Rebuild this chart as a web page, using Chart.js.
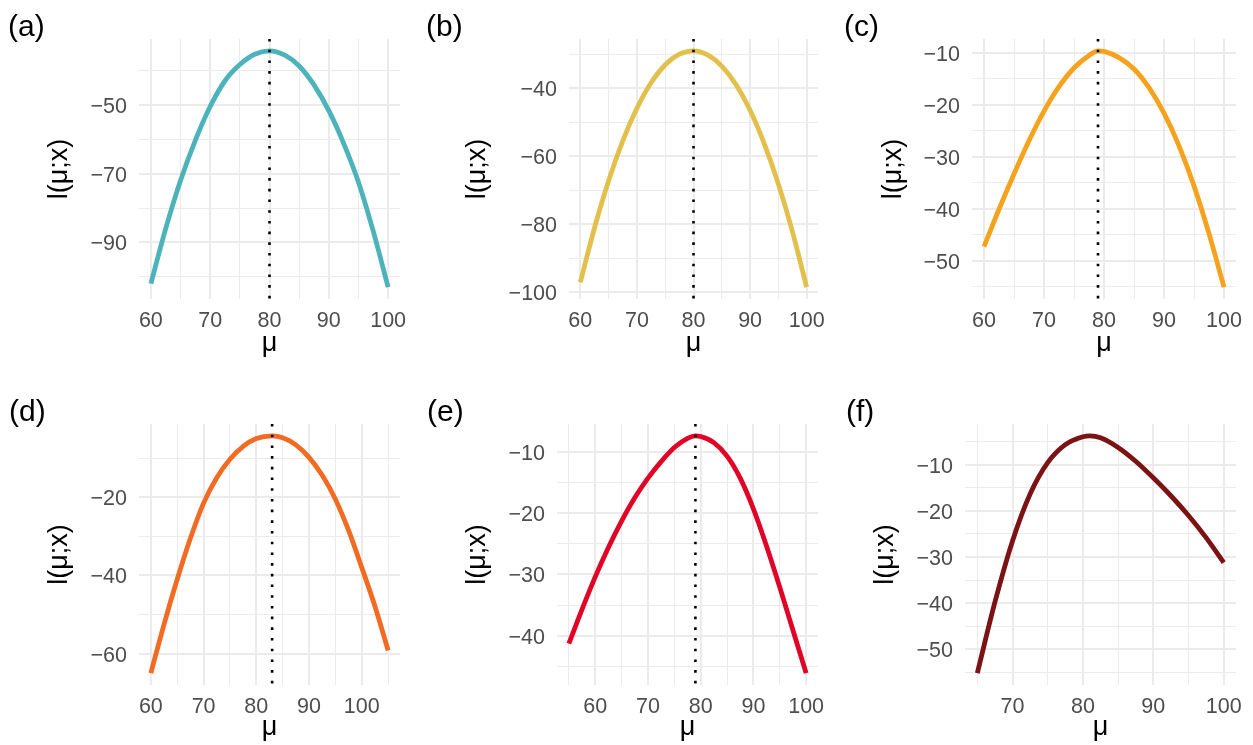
<!DOCTYPE html>
<html>
<head>
<meta charset="utf-8">
<script src="https://cdn.jsdelivr.net/npm/chart.js@4/dist/chart.umd.min.js"></script>
<style>
  body { margin: 0; background: #fff; width: 1253px; height: 745px; position: relative; overflow: hidden; }
  .panel { position: absolute; }
  .tag { position: absolute; font-family: "Liberation Sans", Arial, sans-serif; font-size: 30px; line-height: 1; color: #000; }
</style>
</head>
<body>
<script>
// values: mu on x, log-likelihood l(mu;x) on y
const muA = [60, 62.5, 65, 67.5, 70, 72.5, 75, 77.5, 80, 82.5, 85, 87.5, 90, 92.5, 95, 97.5, 100];
const lA  = [-102.0, -86.0, -72.0, -60.3, -50.5, -43.0, -38.3, -35.3, -34.3, -35.5, -38.7, -44.2, -51.7, -61.2, -72.5, -86.8, -103.0];
const mleA = 80;

const muB = [60, 62.5, 65, 67.5, 70, 72.5, 75, 77.5, 80, 82.5, 85, 87.5, 90, 92.5, 95, 97.5, 100];
const lB  = [-97.1, -81.1, -67.2, -55.5, -45.9, -38.4, -33.1, -30.0, -29.0, -30.2, -33.5, -38.9, -46.5, -56.3, -68.2, -82.3, -98.5];
const mleB = 80;

const muC = [60, 62.5, 65, 67.5, 70, 72.5, 75, 77.5, 79, 80, 82.5, 85, 87.5, 90, 92.5, 95, 97.5, 100];
const lC  = [-47.3, -40.1, -33.3, -26.9, -21.2, -16.5, -12.9, -10.5, -9.6, -9.7, -10.9, -13.1, -16.7, -21.6, -27.9, -35.6, -44.8, -55.1];
const mleC = 79;

const muD = [60, 62.5, 65, 67.5, 70, 72.5, 75, 77.5, 80, 83, 85, 87.5, 90, 92.5, 95, 97.5, 100, 102.5, 105];
const lD  = [-65.0, -52.5, -41.0, -30.5, -21.5, -15.0, -10.3, -7.0, -5.0, -4.3, -4.8, -6.6, -9.8, -14.4, -20.5, -28.5, -38.0, -47.9, -59.2];
const mleD = 83;

const muE = [55, 57.5, 60, 62.5, 65, 67.5, 70, 72.5, 75, 77.5, 79, 80, 82.5, 85, 87.5, 90, 92.5, 95, 97.5, 100];
const lE  = [-41.3, -35.7, -30.4, -25.6, -21.3, -17.5, -14.3, -11.6, -9.3, -7.8, -7.4, -7.5, -8.5, -10.7, -14.3, -19.3, -25.4, -32.1, -39.1, -46.1];
const mleE = 79;

const muF = [65, 67.5, 70, 72.5, 75, 77.5, 80, 81, 82.5, 85, 87.5, 90, 92.5, 95, 97.5, 100];
const lF  = [-55.2, -39.8, -26.5, -16.3, -9.5, -5.6, -3.9, -3.7, -4.1, -6.2, -9.2, -12.8, -16.7, -21.0, -25.8, -31.2];

// tick marks (labelled majors, unlabelled minors)
const xMajor = [60, 70, 80, 90, 100];
const xMinorABC = [65, 75, 85, 95];
const xMinorD = [65, 75, 85, 95, 105];
const xMinorE = [55, 65, 75, 85, 95];
const xMajorF = [70, 80, 90, 100];
const xMinorF = [65, 75, 85, 95];

const yMajorA = [-90, -70, -50];
const yMinorA = [-100, -80, -60, -40];
const yMajorB = [-100, -80, -60, -40];
const yMinorB = [-90, -70, -50, -30];
const yMajorC = [-50, -40, -30, -20, -10];
const yMinorC = [-55, -45, -35, -25, -15];
const yMajorD = [-60, -40, -20];
const yMinorD = [-50, -30, -10];
const yMajorE = [-40, -30, -20, -10];
const yMinorE = [-45, -35, -25, -15];
const yMajorF = [-50, -40, -30, -20, -10];
const yMinorF = [-55, -45, -35, -25, -15, -5];

const FONT = '"Liberation Sans", Arial, sans-serif';
Chart.defaults.font.family = FONT;

const panels = [
  { tag: '(a)', mu: muA, l: lA, mle: mleA, color: '#4DB3BA', xMajor: xMajor, xMinor: xMinorABC, yMajor: yMajorA, yMinor: yMinorA,
    box: { left: 0, top: 0, w: 418, h: 372, plotLeft: 139, plotTop: 39, plotRight: 400, plotBottom: 299, yTitlePad: 46.5, xTitlePad: 15 },
    tagPos: [8, 11] },
  { tag: '(b)', mu: muB, l: lB, mle: mleB, color: '#E3C04B', xMajor: xMajor, xMinor: xMinorABC, yMajor: yMajorB, yMinor: yMinorB,
    box: { left: 418, top: 0, w: 418, h: 372, plotLeft: 569, plotTop: 39, plotRight: 818, plotBottom: 299, yTitlePad: 46.5, xTitlePad: 15 },
    tagPos: [426, 11] },
  { tag: '(c)', mu: muC, l: lC, mle: mleC, color: '#F5A31D', xMajor: xMajor, xMinor: xMinorABC, yMajor: yMajorC, yMinor: yMinorC,
    box: { left: 836, top: 0, w: 417, h: 372, plotLeft: 972, plotTop: 39, plotRight: 1236, plotBottom: 299, yTitlePad: 44.5, xTitlePad: 15 },
    tagPos: [844, 11] },
  { tag: '(d)', mu: muD, l: lD, mle: mleD, color: '#F26B23', xMajor: xMajor, xMinor: xMinorD, yMajor: yMajorD, yMinor: yMinorD,
    box: { left: 0, top: 385, w: 418, h: 360, plotLeft: 139, plotTop: 424, plotRight: 400, plotBottom: 685, yTitlePad: 46.5, xTitlePad: 3.5 },
    tagPos: [9, 396] },
  { tag: '(e)', mu: muE, l: lE, mle: mleE, color: '#E00526', xMajor: xMajor, xMinor: xMinorE, yMajor: yMajorE, yMinor: yMinorE,
    box: { left: 418, top: 385, w: 418, h: 360, plotLeft: 557, plotTop: 424, plotRight: 818, plotBottom: 685, yTitlePad: 46.5, xTitlePad: 3.5 },
    tagPos: [427, 396] },
  { tag: '(f)', mu: muF, l: lF, mle: null, color: '#7B1214', xMajor: xMajorF, xMinor: xMinorF, yMajor: yMajorF, yMinor: yMinorF,
    box: { left: 836, top: 385, w: 417, h: 360, plotLeft: 965, plotTop: 424, plotRight: 1236, plotBottom: 685, yTitlePad: 36.5, xTitlePad: 3.5 },
    tagPos: [846, 396] }
];

// ggplot-style 5% expansion
function expand(vals) {
  const lo = Math.min(...vals), hi = Math.max(...vals);
  const pad = (hi - lo) * 0.05;
  return [lo - pad, hi + pad];
}

function fmt(v) {
  return v < 0 ? '\u2212' + Math.abs(v) : String(v);
}

// dotted vertical line at the maximum
const mleLine = {
  id: 'mleLine',
  afterDatasetsDraw(chart, args, opts) {
    if (opts.value == null) return;
    const { ctx, chartArea, scales } = chart;
    const x = scales.x.getPixelForValue(opts.value);
    ctx.save();
    ctx.strokeStyle = '#000';
    ctx.lineWidth = 2.6;
    ctx.setLineDash([2.6, 8.1]);
    ctx.beginPath();
    ctx.moveTo(x, chartArea.top);
    ctx.lineTo(x, chartArea.bottom);
    ctx.stroke();
    ctx.restore();
  }
};

function makePanel(p) {
  const b = p.box;
  const div = document.createElement('div');
  div.className = 'panel';
  div.style.left = b.left + 'px';
  div.style.top = b.top + 'px';
  div.style.width = b.w + 'px';
  div.style.height = b.h + 'px';
  const canvas = document.createElement('canvas');
  canvas.width = b.w;
  canvas.height = b.h;
  div.appendChild(canvas);
  document.body.appendChild(div);

  const tag = document.createElement('div');
  tag.className = 'tag';
  tag.textContent = p.tag;
  tag.style.left = p.tagPos[0] + 'px';
  tag.style.top = p.tagPos[1] + 'px';
  document.body.appendChild(tag);

  const xTicks = p.xMajor.concat(p.xMinor).sort((a, c) => a - c);
  const yTicks = p.yMajor.concat(p.yMinor).sort((a, c) => a - c);
  const xr = expand(p.mu);
  const yr = expand(p.l);

  new Chart(canvas, {
    type: 'line',
    data: {
      datasets: [{
        data: p.mu.map((m, i) => ({ x: m, y: p.l[i] })),
        borderColor: p.color,
        borderWidth: 4.8,
        pointRadius: 0,
        fill: false,
        cubicInterpolationMode: 'monotone'
      }]
    },
    options: {
      responsive: false,
      animation: false,
      devicePixelRatio: 1,
      layout: { padding: { left: 0, top: b.plotTop - b.top, right: b.left + b.w - b.plotRight, bottom: 0 } },
      plugins: {
        legend: { display: false },
        tooltip: { enabled: false },
        mleLine: { value: p.mle }
      },
      scales: {
        x: {
          type: 'linear',
          min: xr[0],
          max: xr[1],
          afterBuildTicks: s => { s.ticks = xTicks.map(v => ({ value: v })); },
          afterFit: s => { s.height = b.top + b.h - b.plotBottom; },
          ticks: {
            autoSkip: false,
            maxRotation: 0,
            padding: 9.5,
            color: '#4D4D4D',
            font: { size: 21.5 },
            callback: v => p.xMajor.includes(v) ? fmt(v) : ''
          },
          grid: {
            color: '#EBEBEB',
            lineWidth: ctx => (ctx.tick && p.xMajor.includes(ctx.tick.value)) ? 2 : 1,
            drawTicks: false
          },
          border: { display: false },
          title: { display: true, text: 'μ', color: '#000', font: { size: 27, lineHeight: 1 }, padding: { top: 0, bottom: b.xTitlePad } }
        },
        y: {
          type: 'linear',
          min: yr[0],
          max: yr[1],
          afterBuildTicks: s => { s.ticks = yTicks.map(v => ({ value: v })); },
          afterFit: s => { s.width = b.plotLeft - b.left; },
          ticks: {
            autoSkip: false,
            padding: 12,
            labelOffset: 2,
            color: '#4D4D4D',
            font: { size: 21.5 },
            callback: v => p.yMajor.includes(v) ? fmt(v) : ''
          },
          grid: {
            color: '#EBEBEB',
            lineWidth: ctx => (ctx.tick && p.yMajor.includes(ctx.tick.value)) ? 2 : 1,
            drawTicks: false
          },
          border: { display: false },
          title: { display: true, text: 'l(μ;x)', color: '#000', font: { size: 27, lineHeight: 1 }, padding: { top: b.yTitlePad, bottom: 0 } }
        }
      }
    },
    plugins: [mleLine]
  });
}

panels.forEach(makePanel);
</script>
</body>
</html>
